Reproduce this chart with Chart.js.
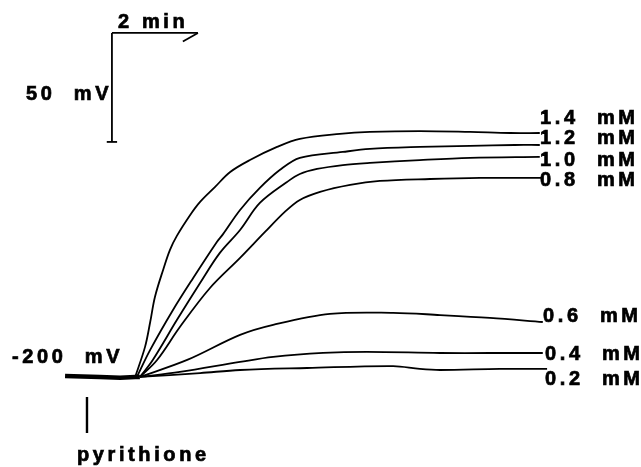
<!DOCTYPE html>
<html>
<head>
<meta charset="utf-8">
<script src="https://cdn.jsdelivr.net/npm/chart.js@4"></script>
<style>
  body { margin: 0; background: #fff; }
  #wrap { width: 641px; height: 467px; }
</style>
</head>
<body>
<div id="wrap"><canvas id="traceChart" width="641" height="467"></canvas></div>
<script>
// time in minutes (0 = pyrithione added), membrane potential in mV
const doseLabels = ['1.4  mM', '1.2  mM', '1.0  mM', '0.8  mM', '0.6  mM', '0.4  mM', '0.2  mM'];

const t14 = [1.12, 1.35, 1.47, 1.58, 1.77, 1.93, 2.09, 2.40, 2.63, 2.98, 3.33, 3.79, 4.42, 4.95, 5.88, 6.58, 7.74, 8.91, 9.84, 10.53];
const v14 = [-200, -186.2, -174.8, -163.3, -150.9, -141.7, -135.3, -125.7, -119.7, -112.8, -106.0, -100.5, -94.5, -90.8, -88.5, -87.6, -87.2, -87.6, -88.1, -88.1];

const t12 = [1.16, 1.47, 2.00, 2.47, 3.02, 3.16, 3.56, 4.02, 4.49, 4.95, 5.95, 6.58, 7.74, 8.91, 9.95, 10.53];
const v12 = [-200, -187.6, -169.3, -154.6, -138.1, -134.6, -123.4, -113.3, -105.0, -99.5, -96.8, -95.4, -94.5, -94.0, -93.6, -93.6];

const t10 = [1.23, 1.53, 2.09, 2.63, 3.09, 3.56, 4.02, 4.65, 4.95, 5.35, 5.95, 6.58, 7.74, 8.91, 10.53];
const v10 = [-200, -192.2, -173.9, -156.9, -143.1, -132.6, -120.2, -110.6, -106.9, -104.6, -102.8, -101.8, -100.5, -99.5, -99.1];

const t08 = [1.23, 1.63, 2.16, 2.86, 3.56, 4.14, 4.60, 4.95, 5.42, 6.12, 6.81, 7.98, 9.14, 10.60];
const v08 = [-200, -192.2, -177.1, -159.2, -145.4, -133.5, -124.3, -118.8, -115.1, -111.9, -110.1, -109.2, -108.7, -108.7];

const t06 = [1.23, 2.33, 3.56, 4.33, 5.65, 7.12, 8.21, 9.37, 10.60];
const v06 = [-200, -192.2, -180.7, -176.1, -171.1, -170.6, -171.6, -172.9, -174.8];

const t04 = [1.23, 2.16, 3.56, 4.33, 5.49, 6.51, 8.21, 9.37, 10.60];
const v04 = [-200, -197.7, -193.1, -190.8, -189.0, -188.5, -189.0, -189.0, -189.0];

const t02 = [1.23, 2.63, 3.56, 5.12, 7.12, 7.74, 8.21, 9.60, 10.70];
const v02 = [-200, -198.2, -196.8, -195.9, -195.0, -196.3, -196.8, -196.3, -196.3];

// resting trace before the traces split
const tBase = [-0.51, 0.30, 0.77, 1.12, 1.23];
const vBase = [-199.6, -200, -200.4, -200, -200];

// calibration bars: 2 min and 50 mV
const barT = 0.58, barV = -92.2, barMin = 2, barMv = 50;

const traceT = [t14, t12, t10, t08, t06, t04, t02];
const traceV = [v14, v12, v10, v08, v06, v04, v02];

function pts(ts, vs) {
    return ts.map((t, i) => ({ x: t, y: vs[i] }));
}

function lineSet(data, width) {
    return { data: data, borderColor: '#000', borderWidth: width, pointRadius: 0, showLine: true, tension: 0, fill: false };
}

let datasets = traceT.map((ts, i) => {
    let d = lineSet(pts(ts, traceV[i]), 1.8);
    d.tension = 0.35;
    return d;
});
datasets.push(lineSet(pts(tBase, vBase), 4.5));
// 50 mV bar with its foot
datasets.push(lineSet([{ x: barT, y: barV }, { x: barT, y: barV + barMv }], 1.8));
datasets.push(lineSet([{ x: barT - 0.12, y: barV }, { x: barT + 0.12, y: barV }], 1.8));
// 2 min arrow
datasets.push(lineSet([{ x: barT, y: barV + barMv }, { x: barT + barMin, y: barV + barMv }], 1.8));
datasets.push(lineSet([{ x: barT + barMin, y: barV + barMv }, { x: barT + barMin - 0.35, y: barV + barMv - 3.9 }], 1.8));
// pyrithione marker
datasets.push(lineSet([{ x: 0, y: -209.2 }, { x: 0, y: -225.7 }], 2.4));

// text layout in pixels: [text, left, baseline]
const textLayout = [
    ['2 min', 118, 28],
    ['50  mV', 26, 100],
    ['-200  mV', 12, 363],
    ['pyrithione', 77, 461],
    [doseLabels[0], 540, 124],
    [doseLabels[1], 540, 144],
    [doseLabels[2], 540, 166],
    [doseLabels[3], 540, 186],
    [doseLabels[4], 543, 322],
    [doseLabels[5], 545, 360],
    [doseLabels[6], 545, 385]
];

const textPlugin = {
    id: 'traceText',
    afterDraw(chart) {
        const ctx = chart.ctx;
        ctx.save();
        ctx.fillStyle = '#000';
        ctx.strokeStyle = '#000';
        ctx.lineWidth = 0.7;
        ctx.font = 'bold 20px "Liberation Sans", Arial, sans-serif';
        ctx.letterSpacing = '3.6px';
        ctx.textAlign = 'left';
        ctx.textBaseline = 'alphabetic';
        textLayout.forEach(item => {
            ctx.fillText(item[0], item[1], item[2]);
            ctx.strokeText(item[0], item[1], item[2]);
        });
        ctx.restore();
    }
};

new Chart(document.getElementById('traceChart'), {
    type: 'scatter',
    data: { datasets: datasets },
    options: {
        responsive: false,
        animation: false,
        layout: { padding: 0 },
        plugins: { legend: { display: false }, tooltip: { enabled: false } },
        scales: {
            x: { type: 'linear', min: -2.023, max: 12.884, display: false },
            y: { type: 'linear', min: -241.3, max: -27.1, display: false }
        }
    },
    plugins: [textPlugin]
});
</script>
</body>
</html>
